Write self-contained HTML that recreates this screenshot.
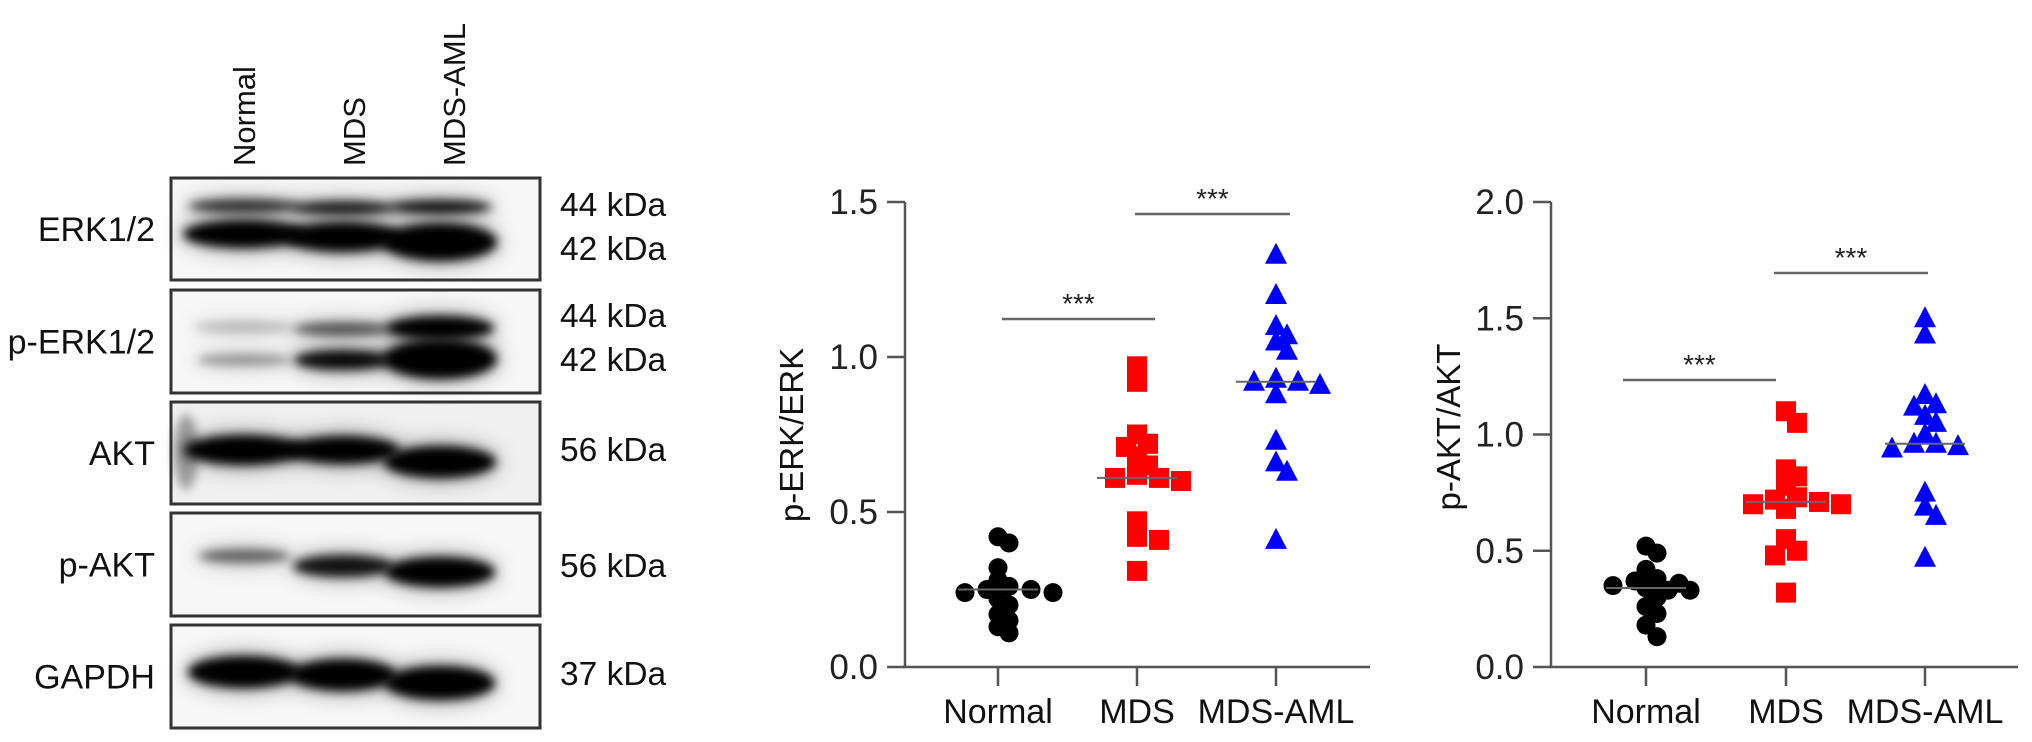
<!DOCTYPE html>
<html><head><meta charset="utf-8"><style>
html,body{margin:0;padding:0;background:#fff;}
svg{display:block;font-family:"Liberation Sans",Arial,sans-serif;}
</style></head><body>
<svg id="fig" width="2032" height="742" viewBox="0 0 2032 742">
<defs>
<filter id="blur" x="-30%" y="-100%" width="160%" height="300%"><feGaussianBlur stdDeviation="5"/></filter>
<filter id="blur2" x="-30%" y="-100%" width="160%" height="300%"><feGaussianBlur stdDeviation="10"/></filter>
</defs>
<g id="blot"></g>
<g id="chart1"></g>
<g id="chart2"></g>
</svg>
<script>
// ---- Chart data ----
const categories = ["Normal", "MDS", "MDS-AML"];
const erkNormal = [0.42,0.40,0.32,0.28,0.26,0.25,0.25,0.24,0.24,0.22,0.20,0.17,0.15,0.13,0.11];
const erkMDS = [0.97,0.92,0.75,0.72,0.71,0.68,0.65,0.62,0.61,0.61,0.60,0.47,0.42,0.41,0.31];
const erkAML = [1.33,1.20,1.10,1.07,1.05,1.02,0.93,0.92,0.92,0.91,0.88,0.73,0.66,0.63,0.41];
const erkMeans = [0.25,0.61,0.92];
const aktNormal = [0.52,0.49,0.42,0.38,0.37,0.36,0.35,0.34,0.33,0.33,0.30,0.26,0.23,0.18,0.13];
const aktMDS = [1.10,1.05,0.85,0.82,0.78,0.73,0.72,0.71,0.70,0.70,0.68,0.55,0.50,0.48,0.32];
const aktAML = [1.50,1.43,1.17,1.13,1.12,1.08,1.05,1.00,0.96,0.96,0.95,0.94,0.75,0.69,0.65,0.47];
const aktMeans = [0.34,0.71,0.96];
const erkTicks = [0.0,0.5,1.0,1.5];
const erkTickLabels = ["0.0","0.5","1.0","1.5"];
const aktTicks = [0.0,0.5,1.0,1.5,2.0];
const aktTickLabels = ["0.0","0.5","1.0","1.5","2.0"];

const NS="http://www.w3.org/2000/svg";
function mk(tag, attrs, parent){const e=document.createElementNS(NS,tag);for(const k in attrs)e.setAttribute(k,attrs[k]);parent.appendChild(e);return e;}

// ---- Western blot ----
const blot=document.getElementById('blot');
const boxes=[[178,280],[290,393],[402,504],[513,616],[625,728]];
const rowLabels=["ERK1/2","p-ERK1/2","AKT","p-AKT","GAPDH"];
const lanes=[244,343,440];
// bands: [row, lane, y, w, h, opacity]
const bands=[
[0,0,206,112,14,0.75],[0,1,208,104,14,0.85],[0,2,207,104,14,0.9],
[0,0,234,122,28,1],[0,1,237,116,30,1],[0,2,242,114,38,1],
[1,0,327,100,12,0.22],[1,1,329,100,14,0.6],[1,2,328,108,24,1],
[1,0,360,95,12,0.35],[1,1,360,98,20,0.95],[1,2,359,114,40,1],
[2,0,450,120,30,1],[2,1,450,112,28,1],[2,2,462,112,32,1],
[3,0,556,92,14,0.55],[3,1,566,100,22,0.9],[3,2,572,110,30,1],
[4,0,672,112,32,1],[4,1,675,106,32,1],[4,2,683,110,34,1]
];
boxes.forEach((b,i)=>{
  const g=mk('g',{},blot);
  
  
  mk('rect',{x:171,y:b[0],width:369,height:b[1]-b[0],fill:i==2?'#f0f0f0':'#f7f7f7'},g);
  const t=mk('text',{x:155,y:(b[0]+b[1])/2+12,'text-anchor':'end','font-size':34,fill:'#111'},g);
  t.textContent=rowLabels[i];
  
  
});
bands.forEach(bd=>{
  const cx=lanes[bd[1]];
  mk('ellipse',{cx:cx,cy:bd[2],rx:bd[3]/2+4,ry:bd[4]/2+5,fill:'#000','fill-opacity':bd[5]*0.3,filter:'url(#blur2)'},blot);
  const e=mk('ellipse',{cx:cx,cy:bd[2],rx:bd[3]/2,ry:bd[4]/2,fill:'#000','fill-opacity':bd[5],filter:'url(#blur)'},blot);
  
  
});
mk('ellipse',{cx:186,cy:452,rx:12,ry:38,fill:'#000','fill-opacity':0.35,filter:'url(#blur)'},blot);
boxes.forEach(b=>{mk('rect',{x:171,y:b[0],width:369,height:b[1]-b[0],fill:'none',stroke:'#333','stroke-width':3},blot);});
const kda=[["44 kDa",216],["42 kDa",260],["44 kDa",327],["42 kDa",371],["56 kDa",461],["56 kDa",577],["37 kDa",685]];
kda.forEach(k=>{const t=mk('text',{x:560,y:k[1],'font-size':33.5,fill:'#111'},blot);t.textContent=k[0];
  
  });
const colLbl=[["Normal",255],["MDS",365],["MDS-AML",465]];
colLbl.forEach(c=>{const t=mk('text',{x:0,y:0,'font-size':31,fill:'#111',transform:`translate(${c[1]},166) rotate(-90)`},blot);t.textContent=c[0];
  
  });

// ---- Scatter charts ----
function drawChart(gid, opt){
  const g=document.getElementById(gid);
  const x0=opt.axisX, xEnd=opt.axisEnd, yTop=202, yBot=667;
  const yS=v=>yBot-(v-0)/(opt.ymax)*(yBot-yTop);
  const xS=i=>opt.catX[i];
  const col='#555';
  const ax=mk('line',{x1:x0,y1:yTop,x2:x0,y2:yBot,stroke:col,'stroke-width':2.5},g);
  
  
  const xa=mk('line',{x1:x0-2,y1:yBot,x2:xEnd,y2:yBot,stroke:col,'stroke-width':2.5},g);
  
  
  opt.ticks.forEach((v,i)=>{
    mk('line',{x1:x0-18,y1:yS(v),x2:x0,y2:yS(v),stroke:col,'stroke-width':2.5},g);
    const t=mk('text',{x:x0-27,y:yS(v)+12,'text-anchor':'end','font-size':35,fill:'#222'},g);
    t.textContent=opt.tickLabels[i];
    
    
  });
  categories.forEach((c,i)=>{
    mk('line',{x1:xS(i),y1:yBot,x2:xS(i),y2:yBot+19,stroke:col,'stroke-width':2.5},g);
    const t=mk('text',{x:xS(i),y:723,'text-anchor':'middle','font-size':34,fill:'#111'},g);
    t.textContent=c;
    
    
  });
  const yt=mk('text',{x:0,y:0,'text-anchor':'middle','font-size':33,fill:'#111',transform:`translate(${opt.titleX},${opt.titleY}) rotate(-90)`},g);
  yt.textContent=opt.title;
  
  
  const colors=['#000','#ff0000','#0000ff'];
  opt.series.forEach((vals,si)=>{
    const placed=[]; const cx=xS(si); const step=11, thr=12;
    const offs=[0,1,-1,2,-2,3,-3,4,-4,5,-5];
    vals.forEach(v=>{
      const y=yS(v); let off=0;
      for(let k=0;k<offs.length;k++){
        const cand=offs[k]*step;
        if(placed.every(p=>Math.hypot(p[0]-(cx+cand),p[1]-y)>=thr)){off=cand;break;}
      }
      placed.push([cx+off,y]);
      let m;
      if(si===0) m=mk('circle',{cx:cx+off,cy:y,r:9.5,fill:colors[si]},g);
      else if(si===1) m=mk('rect',{x:cx+off-10,y:y-10,width:20,height:20,fill:colors[si]},g);
      else m=mk('polygon',{points:`${cx+off},${y-12} ${cx+off-11},${y+9} ${cx+off+11},${y+9}`,fill:colors[si]},g);
      
      
    });
    const ml=mk('line',{x1:cx-40,y1:yS(opt.means[si]),x2:cx+40,y2:yS(opt.means[si]),stroke:'#666','stroke-width':2},g);
    
    
  });
  opt.sig.forEach(s=>{
    const l=mk('line',{x1:s[0],y1:s[2],x2:s[1],y2:s[2],stroke:'#666','stroke-width':2.5},g);
    
    
    const t=mk('text',{x:(s[0]+s[1])/2,y:s[2]-6,'text-anchor':'middle','font-size':28,fill:'#222'},g);
    t.textContent='***';
    
    
  });
}
drawChart('chart1',{axisX:905,axisEnd:1370,ymax:1.5,catX:[998,1137,1276],ticks:erkTicks,tickLabels:erkTickLabels,
  title:'p-ERK/ERK',titleX:803,titleY:435,series:[erkNormal,erkMDS,erkAML],means:erkMeans,
  sig:[[1002,1155,319],[1135,1290,214]]});
drawChart('chart2',{axisX:1551,axisEnd:2018,ymax:2.0,catX:[1646,1786,1925],ticks:aktTicks,tickLabels:aktTickLabels,
  title:'p-AKT/AKT',titleX:1460,titleY:427,series:[aktNormal,aktMDS,aktAML],means:aktMeans,
  sig:[[1623,1776,380],[1774,1928,273]]});
</script>
</body></html>
